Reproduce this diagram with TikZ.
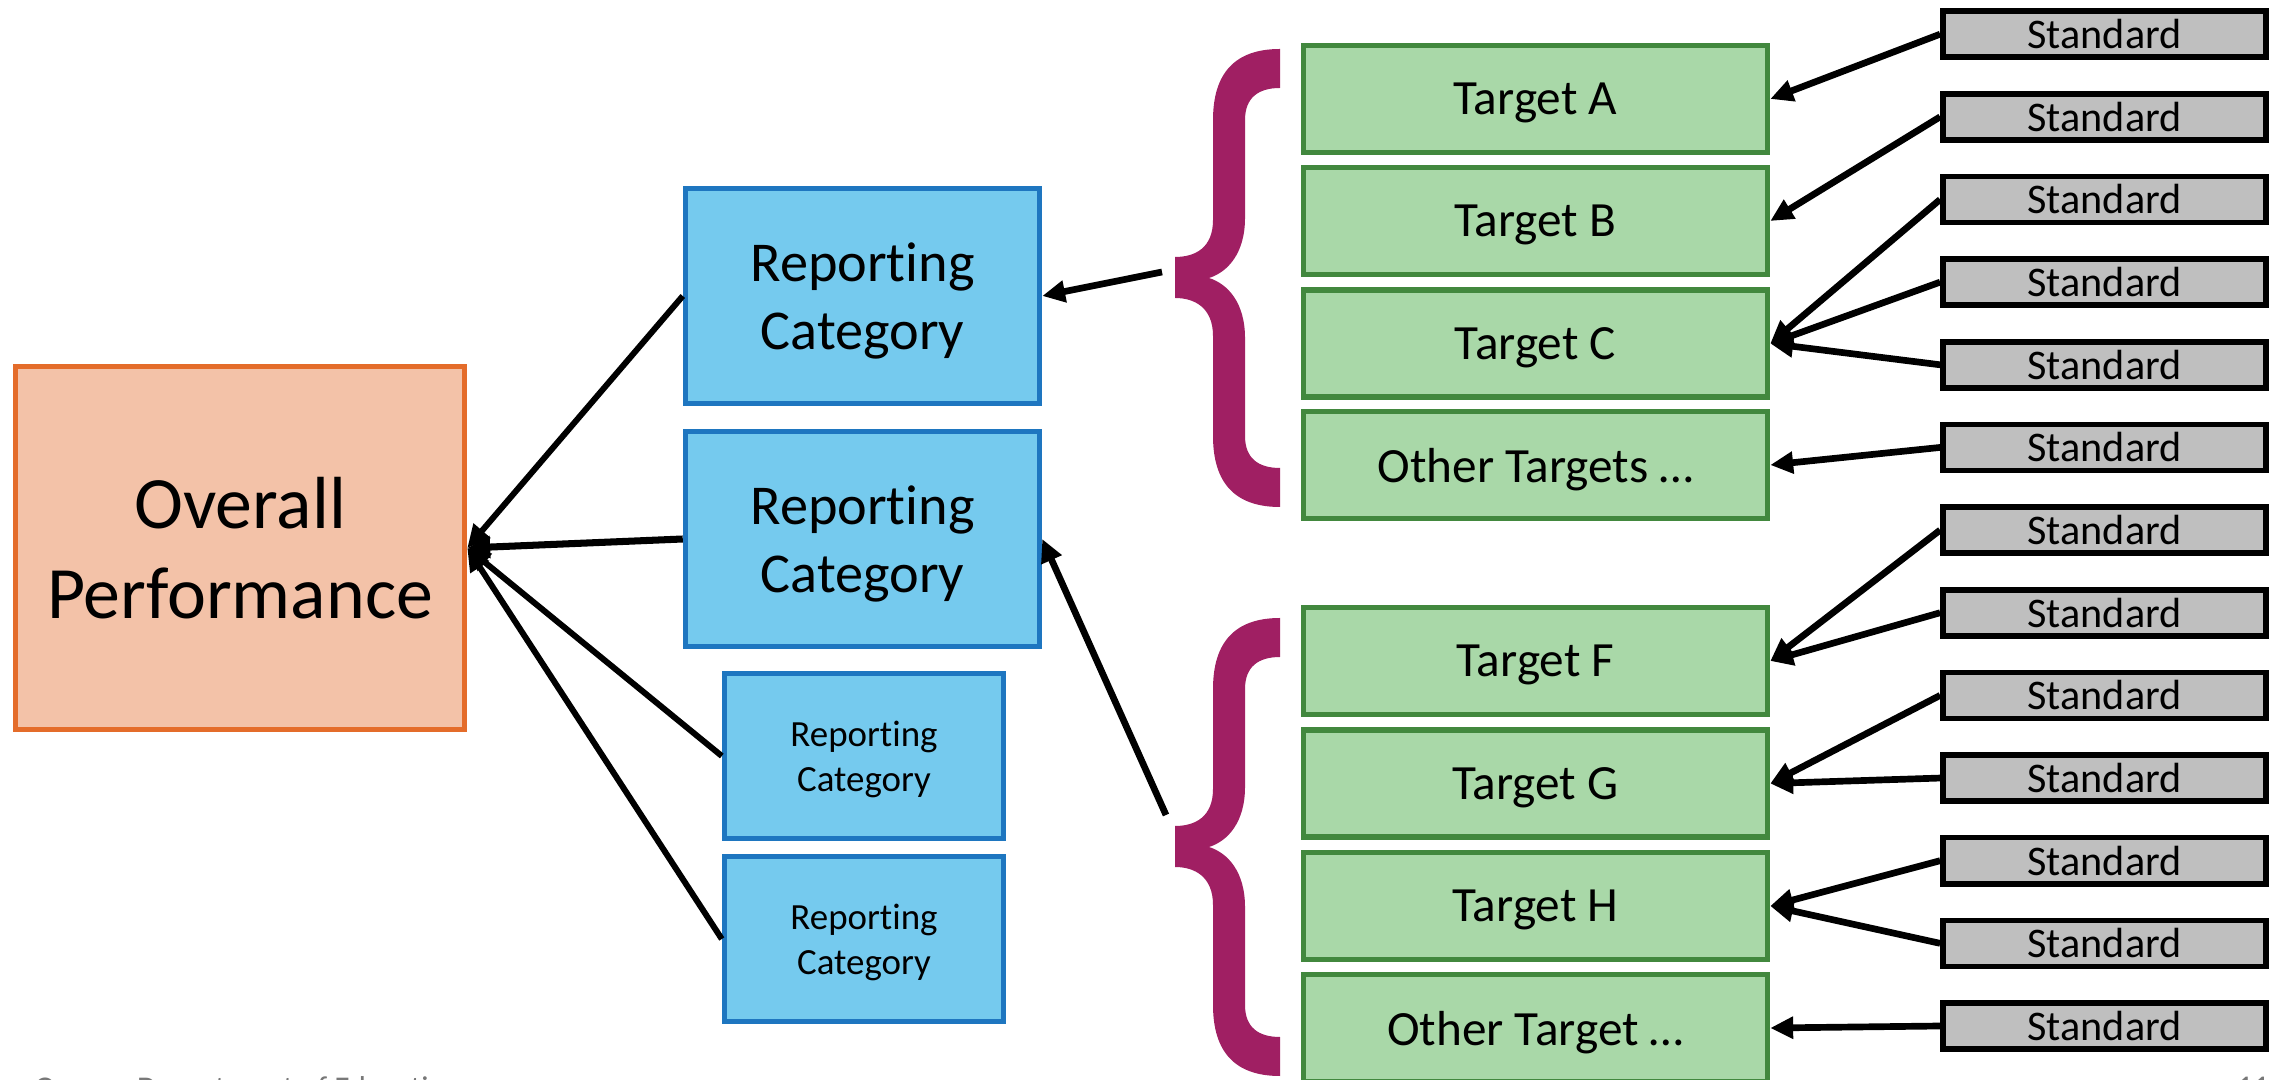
\documentclass[tikz,border=0pt]{standalone}
\usepackage{fontspec}
\setmainfont{Carlito}[Ligatures={NoCommon,NoContextual,NoRare},Contextuals=NoAlternate]
\usetikzlibrary{arrows.meta}
\definecolor{ovfill}{RGB}{243,194,168}
\definecolor{ovdraw}{RGB}{228,108,42}
\definecolor{rcfill}{RGB}{117,202,238}
\definecolor{rcdraw}{RGB}{30,118,192}
\definecolor{tgfill}{RGB}{169,216,168}
\definecolor{tgdraw}{RGB}{66,136,62}
\definecolor{stfill}{RGB}{191,191,191}
\definecolor{brc}{RGB}{160,31,99}
\definecolor{footgray}{RGB}{120,120,120}
\newcommand{\curlybrace}[2]{%
\fill[brc] (#1,#2-229) .. controls (#1-45,#2-229) and (#1-67,#2-205) .. (#1-67,#2-158)
 -- (#1-67,#2-58) .. controls (#1-67,#2-30) and (#1-85,#2-21) .. (#1-105,#2-21)
 -- (#1-105,#2+20) .. controls (#1-85,#2+20) and (#1-67,#2+30) .. (#1-67,#2+58)
 -- (#1-67,#2+158) .. controls (#1-67,#2+205) and (#1-45,#2+229) .. (#1,#2+229)
 -- (#1,#2+190) .. controls (#1-22,#2+190) and (#1-35,#2+180) .. (#1-35,#2+158)
 -- (#1-35,#2+60) .. controls (#1-35,#2+25) and (#1-52,#2+6) .. (#1-71,#2)
 .. controls (#1-52,#2-6) and (#1-35,#2-25) .. (#1-35,#2-60)
 -- (#1-35,#2-158) .. controls (#1-35,#2-180) and (#1-22,#2-190) .. (#1,#2-190) -- cycle;}
\begin{document}
\begin{tikzpicture}[x=0.01cm,y=-0.01cm,
  box/.style={rectangle, inner sep=0pt, align=center, line width=1.5pt},
  ovbox/.style={box, fill=ovfill, draw=ovdraw, minimum width=4.49cm, minimum height=3.63cm, font=\fontsize{21}{25.5}\selectfont},
  rcbig/.style={box, fill=rcfill, draw=rcdraw, minimum width=3.54cm, minimum height=2.15cm, text depth=0pt, font=\fontsize{16}{19.5}\selectfont},
  rcsmall/.style={box, fill=rcfill, draw=rcdraw, minimum width=2.79cm, minimum height=1.65cm, text depth=0pt, font=\fontsize{10.5}{12.8}\selectfont},
  tgbox/.style={box, fill=tgfill, draw=tgdraw, minimum width=4.64cm, minimum height=1.07cm, text depth=0pt, font=\fontsize{14}{17}\selectfont},
  stdbox/.style={box, line width=1.6pt, fill=stfill, draw=black, minimum width=3.23cm, minimum height=0.46cm, font=\fontsize{12}{14}\selectfont},
  arr/.style={line width=1.9pt, -{Triangle[length=6.5pt,width=6pt]}},
  arrov/.style={line width=1.7pt, -{Triangle[length=6.5pt,width=6pt]}},
  foot/.style={inner sep=0pt, text=footgray, font=\fontsize{9}{10}\selectfont}
]
\useasboundingbox (0,0) rectangle (2282,1080);
\fill[white] (0,0) rectangle (2282,1080);

% braces
\curlybrace{1280}{278}
\curlybrace{1280}{847}

% overall
\node[ovbox] (ov) at (240,548) {Overall\\Performance};

% reporting categories
\node[rcbig] (rc1) at (862.5,296) {Reporting\\Category};
\node[rcbig] (rc2) at (862.5,539) {Reporting\\Category};
\node[rcsmall] (rc3) at (864,756) {Reporting\\Category};
\node[rcsmall] (rc4) at (864,939) {Reporting\\Category};

% targets
\node[tgbox] (ta) at (1535.5,99) {Target A};
\node[tgbox] (tb) at (1535.5,221) {Target B};
\node[tgbox] (tc) at (1535.5,343.5) {Target C};
\node[tgbox] (to1) at (1535.5,465) {Other Targets …};
\node[tgbox] (tf) at (1535.5,661) {Target F};
\node[tgbox] (tg) at (1535.5,783.5) {Target G};
\node[tgbox] (th) at (1535.5,906) {Target H};
\node[tgbox] (to2) at (1535.5,1028) {Other Target …};

% standards
\foreach \k in {1,...,13}
  \node[stdbox] (s\k) at (2104.5,{34.2+82.65*(\k-1)}) {Standard};

% standards -> targets
\draw[arr] (s1.west) -- (ta.east);
\draw[arr] (s2.west) -- (tb.east);
\draw[arr] (s3.west) -- (tc.east);
\draw[arr] (s4.west) -- (tc.east);
\draw[arr] (s5.west) -- (tc.east);
\draw[arr] (s6.west) -- (to1.east);
\draw[arr] (s7.west) -- (tf.east);
\draw[arr] (s8.west) -- (tf.east);
\draw[arr] (s9.west) -- (tg.east);
\draw[arr] (s10.west) -- (tg.east);
\draw[arr] (s11.west) -- (th.east);
\draw[arr] (s12.west) -- (th.east);
\draw[arr] (s13.west) -- (to2.east);

% braces -> reporting categories
\coordinate (b1) at (1162,272);
\coordinate (b2) at (1166,815);
\draw[arr] (b1) -- (rc1.east);
\draw[arr] (b2) -- (rc2.east);

% reporting categories -> overall
\draw[arrov] (rc1.west) -- (ov.east);
\draw[arrov, line width=2pt] (rc2.west) -- (ov.east);
\draw[arrov] (rc3.west) -- (ov.east);
\draw[arrov] (rc4.west) -- (ov.east);

% footer (cut off at the page edge)
\node[foot, anchor=north west] (ft) at (34,1076) {Oregon Department of Education};
\node[foot, anchor=north east] (pg) at (2270,1076) {11};
\end{tikzpicture}
\end{document}
